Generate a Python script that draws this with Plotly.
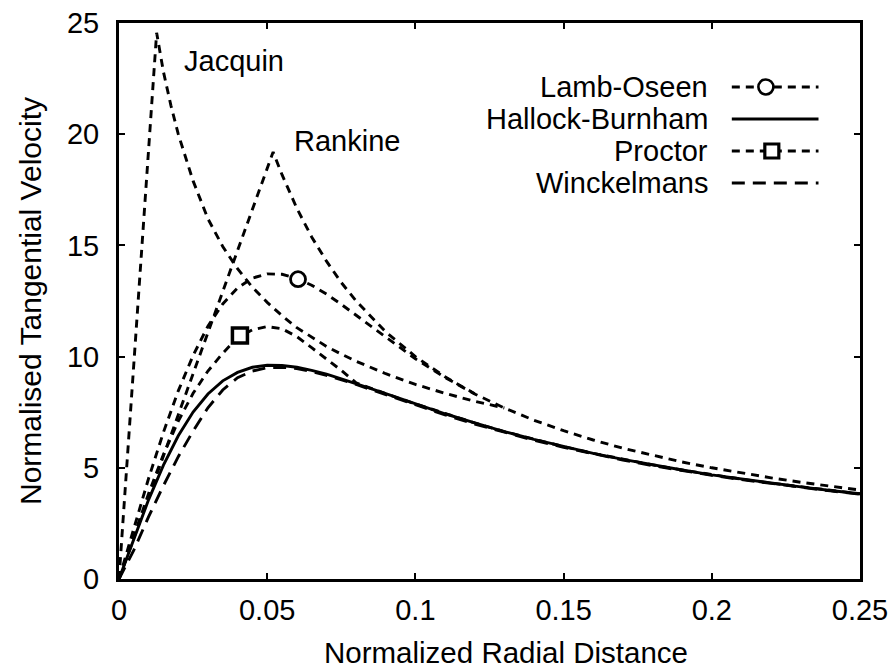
import plotly.graph_objects as go

# ---------------- data ----------------
r_grid = [0, 0.005, 0.01, 0.015, 0.02, 0.025, 0.03, 0.035, 0.04, 0.045, 0.05,
          0.055, 0.06, 0.065, 0.07, 0.075, 0.08, 0.085, 0.09, 0.1, 0.11, 0.12,
          0.13, 0.14, 0.15, 0.16, 0.17, 0.18, 0.19, 0.2, 0.21, 0.22, 0.23, 0.24, 0.25]

v_lamb = [0, 2.30, 4.53, 6.60, 8.46, 10.05, 11.37, 12.37, 13.09, 13.53, 13.72,
          13.70, 13.52, 13.21, 12.81, 12.35, 11.86, 11.35, 10.85, 9.90, 9.06, 8.32,
          7.69, 7.14, 6.67, 6.25, 5.88, 5.56, 5.26, 5.00, 4.76, 4.55, 4.35, 4.17, 4.00]

v_hallock = [0, 1.83, 3.57, 5.12, 6.44, 7.51, 8.32, 8.91, 9.29, 9.52, 9.61,
             9.60, 9.52, 9.38, 9.21, 9.00, 8.79, 8.56, 8.33, 7.87, 7.43, 7.02,
             6.63, 6.28, 5.95, 5.65, 5.38, 5.13, 4.90, 4.68, 4.49, 4.31, 4.14, 3.98, 3.83]

v_proctor = [0, 1.95, 3.85, 5.60, 7.10, 8.35, 9.35, 10.15, 10.85, 11.20, 11.35,
             11.25, 10.90, 10.40, 9.90, 9.38, 8.82, 8.56, 8.33, 7.87, 7.43, 7.02,
             6.63, 6.28, 5.95, 5.65, 5.38, 5.13, 4.90, 4.68, 4.49, 4.31, 4.14, 3.98, 3.83]

v_winckelmans = [0, 1.30, 2.80, 4.20, 5.50, 6.65, 7.70, 8.50, 9.05, 9.35, 9.50,
                 9.52, 9.46, 9.33, 9.16, 8.96, 8.75, 8.52, 8.29, 7.82, 7.38, 6.97,
                 6.59, 6.24, 5.92, 5.62, 5.35, 5.10, 4.87, 4.66, 4.47, 4.29, 4.12, 3.96, 3.81]

# Rankine and Jacquin join the Lamb-Oseen 1/r tail; they are read up to where they merge
r_rankine = [0, 0.052, 0.055, 0.06, 0.065, 0.07, 0.075, 0.08, 0.09, 0.1, 0.11, 0.12]
v_rankine = [0, 19.2, 18.18, 16.67, 15.38, 14.29, 13.33, 12.5, 11.11, 10.0, 9.09, 8.33]

r_jacquin = [0, 0.0127, 0.015, 0.0175, 0.02, 0.025, 0.03, 0.035, 0.04, 0.045, 0.05,
             0.055, 0.06, 0.065, 0.07, 0.075, 0.08, 0.09, 0.1, 0.11, 0.12, 0.13]
v_jacquin = [0, 24.56, 22.8, 21.3, 20.0, 17.9, 16.2, 14.95, 13.95, 13.12, 12.44,
             11.84, 11.3, 10.86, 10.46, 10.11, 9.79, 9.23, 8.75, 8.35, 7.99, 7.69]

# single point markers placed on the curves
lamb_marker_r = [0.0604]
lamb_marker_v = [13.48]
proctor_marker_r = [0.0408]
proctor_marker_v = [10.95]

legend_names = ["Lamb-Oseen", "Hallock-Burnham", "Proctor", "Winckelmans"]
curve_labels = ["Jacquin", "Rankine"]
x_title = "Normalized Radial Distance"
y_title = "Normalised Tangential Velocity"
x_ticks = [0, 0.05, 0.1, 0.15, 0.2, 0.25]
x_ticktext = ["0", "0.05", "0.1", "0.15", "0.2", "0.25"]
y_ticks = [0, 5, 10, 15, 20, 25]

# ---------------- styling ----------------
FONT = "Liberation Sans, Arial, Helvetica, sans-serif"
LW = 2.9
SHORT = "8px,6px"
LONG = "13px,8px"

fig = go.Figure()

def curve(x, y, dash):
    fig.add_trace(go.Scatter(x=x, y=y, mode="lines", showlegend=False,
                             line=dict(color="black", width=LW, dash=dash),
                             hoverinfo="skip"))

curve(r_jacquin, v_jacquin, SHORT)
curve(r_rankine, v_rankine, SHORT)
curve(r_grid, v_lamb, SHORT)
curve(r_grid, v_proctor, SHORT)
curve(r_grid, v_winckelmans, LONG)
curve(r_grid, v_hallock, "solid")

fig.add_trace(go.Scatter(x=lamb_marker_r, y=lamb_marker_v, mode="markers", showlegend=False,
                         marker=dict(symbol="circle", size=15, color="white",
                                     line=dict(color="black", width=2.8))))
fig.add_trace(go.Scatter(x=proctor_marker_r, y=proctor_marker_v, mode="markers", showlegend=False,
                         marker=dict(symbol="square", size=15, color="white",
                                     line=dict(color="black", width=3.5))))

# ---------------- custom gnuplot-style key (text left, sample right) ----------------
key_rows = [0.885, 0.8273, 0.7698, 0.7122]
key_x0, key_x1 = 0.827, 0.944
key_styles = [SHORT, "solid", SHORT, LONG]
key_marks = [("circle", 0.873, 15, 2.6), None, ("square", 0.881, 14, 3.2), None]
for name, yk, st, mk in zip(legend_names, key_rows, key_styles, key_marks):
    fig.add_trace(go.Scatter(x=[key_x0, key_x1], y=[yk, yk], mode="lines", xaxis="x2", yaxis="y2",
                             showlegend=False, hoverinfo="skip",
                             line=dict(color="black", width=LW, dash=st)))
    if mk:
        fig.add_trace(go.Scatter(x=[mk[1]], y=[yk], mode="markers", xaxis="x2", yaxis="y2",
                                 showlegend=False, hoverinfo="skip",
                                 marker=dict(symbol=mk[0], size=mk[2], color="white",
                                             line=dict(color="black", width=mk[3]))))
    fig.add_annotation(x=0.7976, y=yk, xref="paper", yref="paper", text=name,
                       showarrow=False, xanchor="right", yanchor="middle",
                       font=dict(family=FONT, size=29, color="black"))

# curve labels
fig.add_annotation(x=0.0212, y=23.3, text=curve_labels[0], showarrow=False,
                   xanchor="left", yanchor="middle",
                   font=dict(family=FONT, size=29, color="black"))
fig.add_annotation(x=0.0583, y=19.7, text=curve_labels[1], showarrow=False,
                   xanchor="left", yanchor="middle",
                   font=dict(family=FONT, size=29, color="black"))

# x-axis title (placed like the reference, slightly right of the plot centre)
fig.add_annotation(x=0.5223, y=-0.1313, xref="paper", yref="paper", text=x_title,
                   showarrow=False, xanchor="center", yanchor="middle",
                   font=dict(family=FONT, size=29.5, color="black"))

axis_common = dict(showline=True, linecolor="black", linewidth=3, mirror="ticks",
                   ticks="inside", ticklen=6, tickwidth=2, tickcolor="black",
                   showgrid=False, zeroline=False, automargin=False,
                   tickfont=dict(family=FONT, size=29, color="black"))

fig.update_layout(
    template="none",
    width=895, height=672,
    margin=dict(l=119, r=35, t=23, b=93),
    paper_bgcolor="white", plot_bgcolor="white",
    showlegend=False,
    xaxis=dict(range=[0, 0.25], tickvals=x_ticks, ticktext=x_ticktext,
               ticklabelstandoff=3, **axis_common),
    yaxis=dict(range=[0, 25], tickvals=y_ticks,
               title=dict(text=y_title, standoff=17,
                          font=dict(family=FONT, size=30, color="black")),
               ticklabelstandoff=11, **axis_common),
    xaxis2=dict(overlaying="x", range=[0, 1], visible=False, automargin=False),
    yaxis2=dict(overlaying="y", range=[0, 1], visible=False, automargin=False),
)

fig.write_html("out.html")
